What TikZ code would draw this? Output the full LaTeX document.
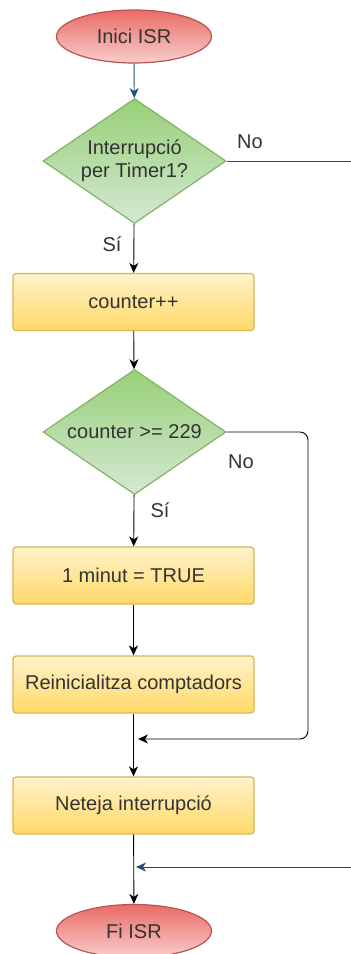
\documentclass[tikz,border=0pt]{standalone}
\usepackage{fontspec}
\setmainfont{Liberation Sans}
\usetikzlibrary{shapes.geometric,arrows.meta}
\definecolor{redstroke}{HTML}{B85450}
\definecolor{redtop}{HTML}{EA6B66}
\definecolor{redbot}{HTML}{F8CECC}
\definecolor{grnstroke}{HTML}{82B366}
\definecolor{grntop}{HTML}{97D077}
\definecolor{grnbot}{HTML}{D5E8D4}
\definecolor{ylwstroke}{HTML}{D6B656}
\definecolor{ylwtop}{HTML}{FFF2CC}
\definecolor{ylwbot}{HTML}{FFD966}
\definecolor{txt}{HTML}{333333}
\definecolor{bluearr}{HTML}{1F4E79}
\tikzset{
  base/.style={font=\fontsize{20}{23}\selectfont, text=txt, inner sep=0pt, align=center, line width=1.2pt},
  term/.style={base, ellipse, draw=redstroke, top color=redtop, bottom color=redbot, minimum width=155pt, minimum height=53pt},
  decis/.style={base, diamond, aspect=1.46, draw=grnstroke, top color=grntop, bottom color=grnbot, minimum width=183pt, minimum height=125pt},
  proc/.style={base, rectangle, rounded corners=3pt, draw=ylwstroke, top color=ylwtop, bottom color=ylwbot, minimum width=241pt, minimum height=57pt},
  lbl/.style={font=\fontsize{20}{23}\selectfont, text=txt, inner sep=0pt},
  conn/.style={line width=0.9pt, black, -{Stealth[length=10pt,width=9pt,inset=3pt]}},
  connline/.style={line width=0.9pt, black},
  bconn/.style={line width=0.9pt, bluearr, -{Stealth[length=10pt,width=9pt,inset=3pt]}},
  bline/.style={line width=0.9pt, bluearr}
}
\begin{document}
\begin{tikzpicture}[x=1pt,y=-1pt]
\useasboundingbox (0,0) rectangle (351,954);
\node[term] (start) at (134,36.5) {Inici ISR};
\node[decis] (d1) at (134.5,161) {Interrupció\\per Timer1?};
\node[proc] (p1) at (133.5,302) {counter++};
\node[decis] (d2) at (134.5,432) {counter >= 229};
\node[proc] (p2) at (133.5,575.5) {1 minut = TRUE};
\node[proc] (p3) at (133.5,684.5) {Reinicialitza comptadors};
\node[proc] (p4) at (133.5,805.5) {Neteja interrupció};
\node[term] (end) at (134,931) {Fi ISR};

\coordinate (r1) at (351,161);
\coordinate (r2) at (351,867);
\coordinate (m1) at (134,739);
\coordinate (m2) at (134,867);
\coordinate (c1) at (308,432);
\coordinate (c2) at (308,739);

\draw[bconn] (start) -- (d1);
\draw[bline] (d1.east) -- (r1);
\node[lbl] (no1) at (250,142) {No};
\draw[conn] (d1) -- (p1);
\node[lbl] (si1) at (112,244) {Sí};
\draw[conn] (p1) -- (d2);
\draw[conn] (d2) -- (p2);
\node[lbl] (si2) at (160,510) {Sí};
\node[lbl] (no2) at (241,462) {No};
\draw[conn] (p2) -- (p3);
\draw[conn] (p3) -- (p4);
\draw[conn] (p4) -- (end);
\draw[connline, rounded corners=8pt, -{Stealth[length=10pt,width=9pt,inset=3pt]}] (d2.east) -- (c1) -- (c2) -- ([xshift=4pt]m1);
\draw[bconn] (r2) -- ([xshift=2pt]m2);
\end{tikzpicture}
\end{document}
